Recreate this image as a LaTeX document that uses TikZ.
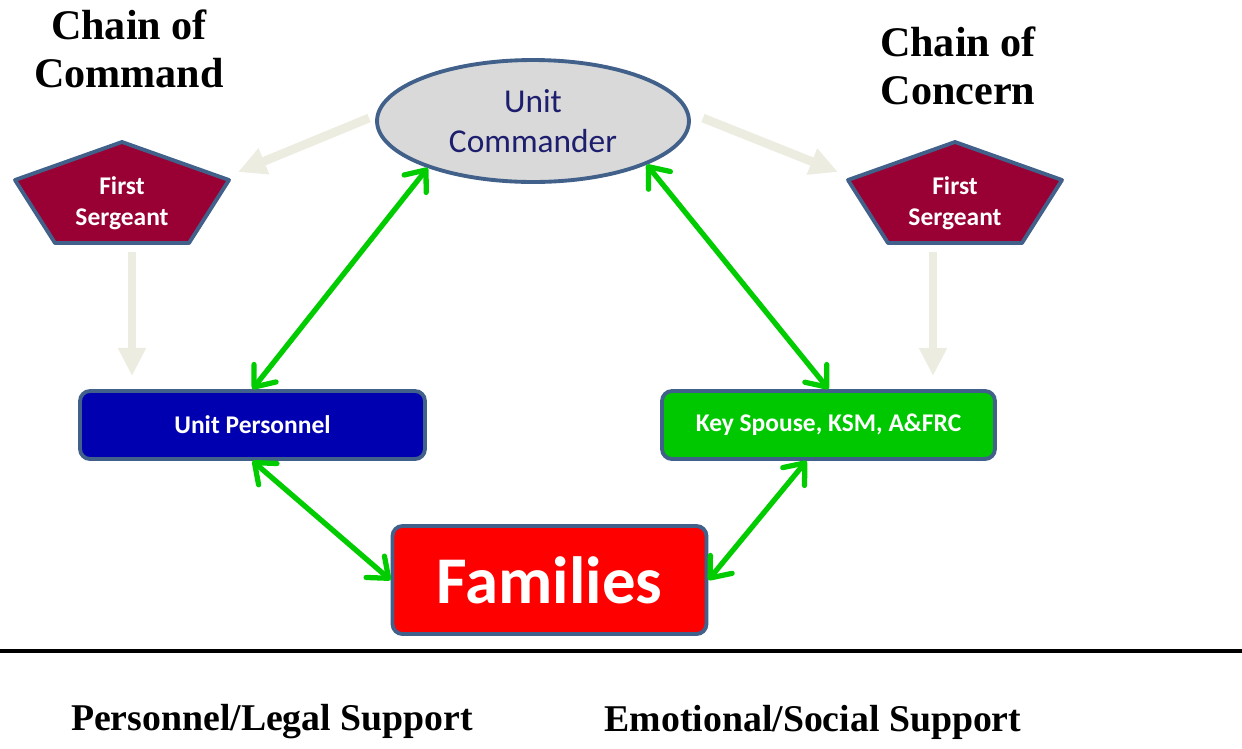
\documentclass[tikz,border=0pt]{standalone}
\usepackage{fontspec}
\setmainfont{Carlito}
\newfontfamily\headfont{Liberation Serif}
\usetikzlibrary{arrows.meta,positioning,shapes.geometric,calc}

\definecolor{rim}{RGB}{65,96,138}
\definecolor{sgtred}{RGB}{153,0,51}
\definecolor{unitblue}{RGB}{0,0,176}
\definecolor{spousegreen}{RGB}{0,200,0}
\definecolor{linkgreen}{RGB}{0,204,0}
\definecolor{feedgray}{RGB}{236,236,224}
\definecolor{inkblue}{RGB}{30,30,110}

% pentagon with its label: name, centre x
\newcommand{\sgtbox}[2]{%
  \draw[sgtshape] (#2-107,180) -- (#2,142) -- (#2+107,180) -- (#2+67,243) -- (#2-67,243) -- cycle;
  \node[sgttext] (#1) at (#2,203) {First\\Sergeant};}

\begin{document}
\begin{tikzpicture}
  [x=0.02cm,y=-0.02cm,
   head/.style={font=\headfont\bfseries\fontsize{24}{27.2}\selectfont,align=center},
   foot/.style={font=\headfont\bfseries\fontsize{21.5}{25}\selectfont},
   cmdr/.style={ellipse,draw=rim,line width=2.2pt,fill=black!15,minimum width=6.24cm,
     minimum height=2.44cm,inner sep=0pt,text=inkblue,align=center,
     font=\fontsize{19}{22.7}\selectfont},
   sgtshape/.style={draw=rim,line width=2.2pt,fill=sgtred,line join=round},
   sgttext/.style={text=white,align=center,font=\bfseries\fontsize{14.5}{17.6}\selectfont},
   unitbox/.style={rectangle,rounded corners=0.2cm,draw=rim,line width=2.2pt,text=white,
     font=\bfseries\fontsize{14.5}{17}\selectfont,minimum height=1.36cm},
   link/.style={linkgreen,line width=3pt,>={Straight Barb[length=10pt,width=16pt,round]},<->},
   feed/.style={feedgray,line width=5pt,-{Triangle[length=16pt,width=15pt]}}]
  \useasboundingbox (0,0) rectangle (1242,748);

  \node[head] (cocl) at (129,49) {Chain of\\Command};
  \node[head] (cocr) at (958,66) {Chain of\\Concern};

  \node[cmdr] (uc) at (533,121) {Unit\\Commander};
  \sgtbox{fs1}{122}
  \sgtbox{fs2}{955}

  \node[unitbox,fill=unitblue,minimum width=6.9cm] (up) at (252.5,425) {Unit Personnel};
  \node[unitbox,fill=spousegreen,minimum width=6.66cm] (ks) at (828.5,425) {Key Spouse, KSM, A\&FRC};
  \node[unitbox,fill=red,minimum width=6.28cm,minimum height=2.16cm,
    font=\bfseries\fontsize{38}{40}\selectfont] (fam) at (549.5,580) {Families};

  \coordinate (fs1in) at (238,172);
  \coordinate (fs2in) at (838,172);
  \coordinate (fs1out) at (132,252);
  \coordinate (fs2out) at (933,252);
  \coordinate (up1in) at (132,376);
  \coordinate (ks1in) at (933,376);

  \draw[feed] ([shift={(-6,-3)}]uc.west) -- (fs1in);
  \draw[feed] ([shift={(12,-3)}]uc.east) -- (fs2in);
  \draw[feed] (fs1out) -- (up1in);
  \draw[feed] (fs2out) -- (ks1in);

  \draw[link] (uc.204) -- (up.north);
  \draw[link] (uc.-21) -- (ks.north);
  \draw[link] (up.south) -- (fam.west);
  \draw[link] ([xshift=-0.44cm]ks.south) -- (fam.east);

  \draw[line width=2.8pt] (0,651) -- (1242,651);

  \node[foot] (legal) at (272,722) {Personnel/Legal Support};
  \node[foot] (social) at (813,722) {Emotional/Social Support};
\end{tikzpicture}
\end{document}
